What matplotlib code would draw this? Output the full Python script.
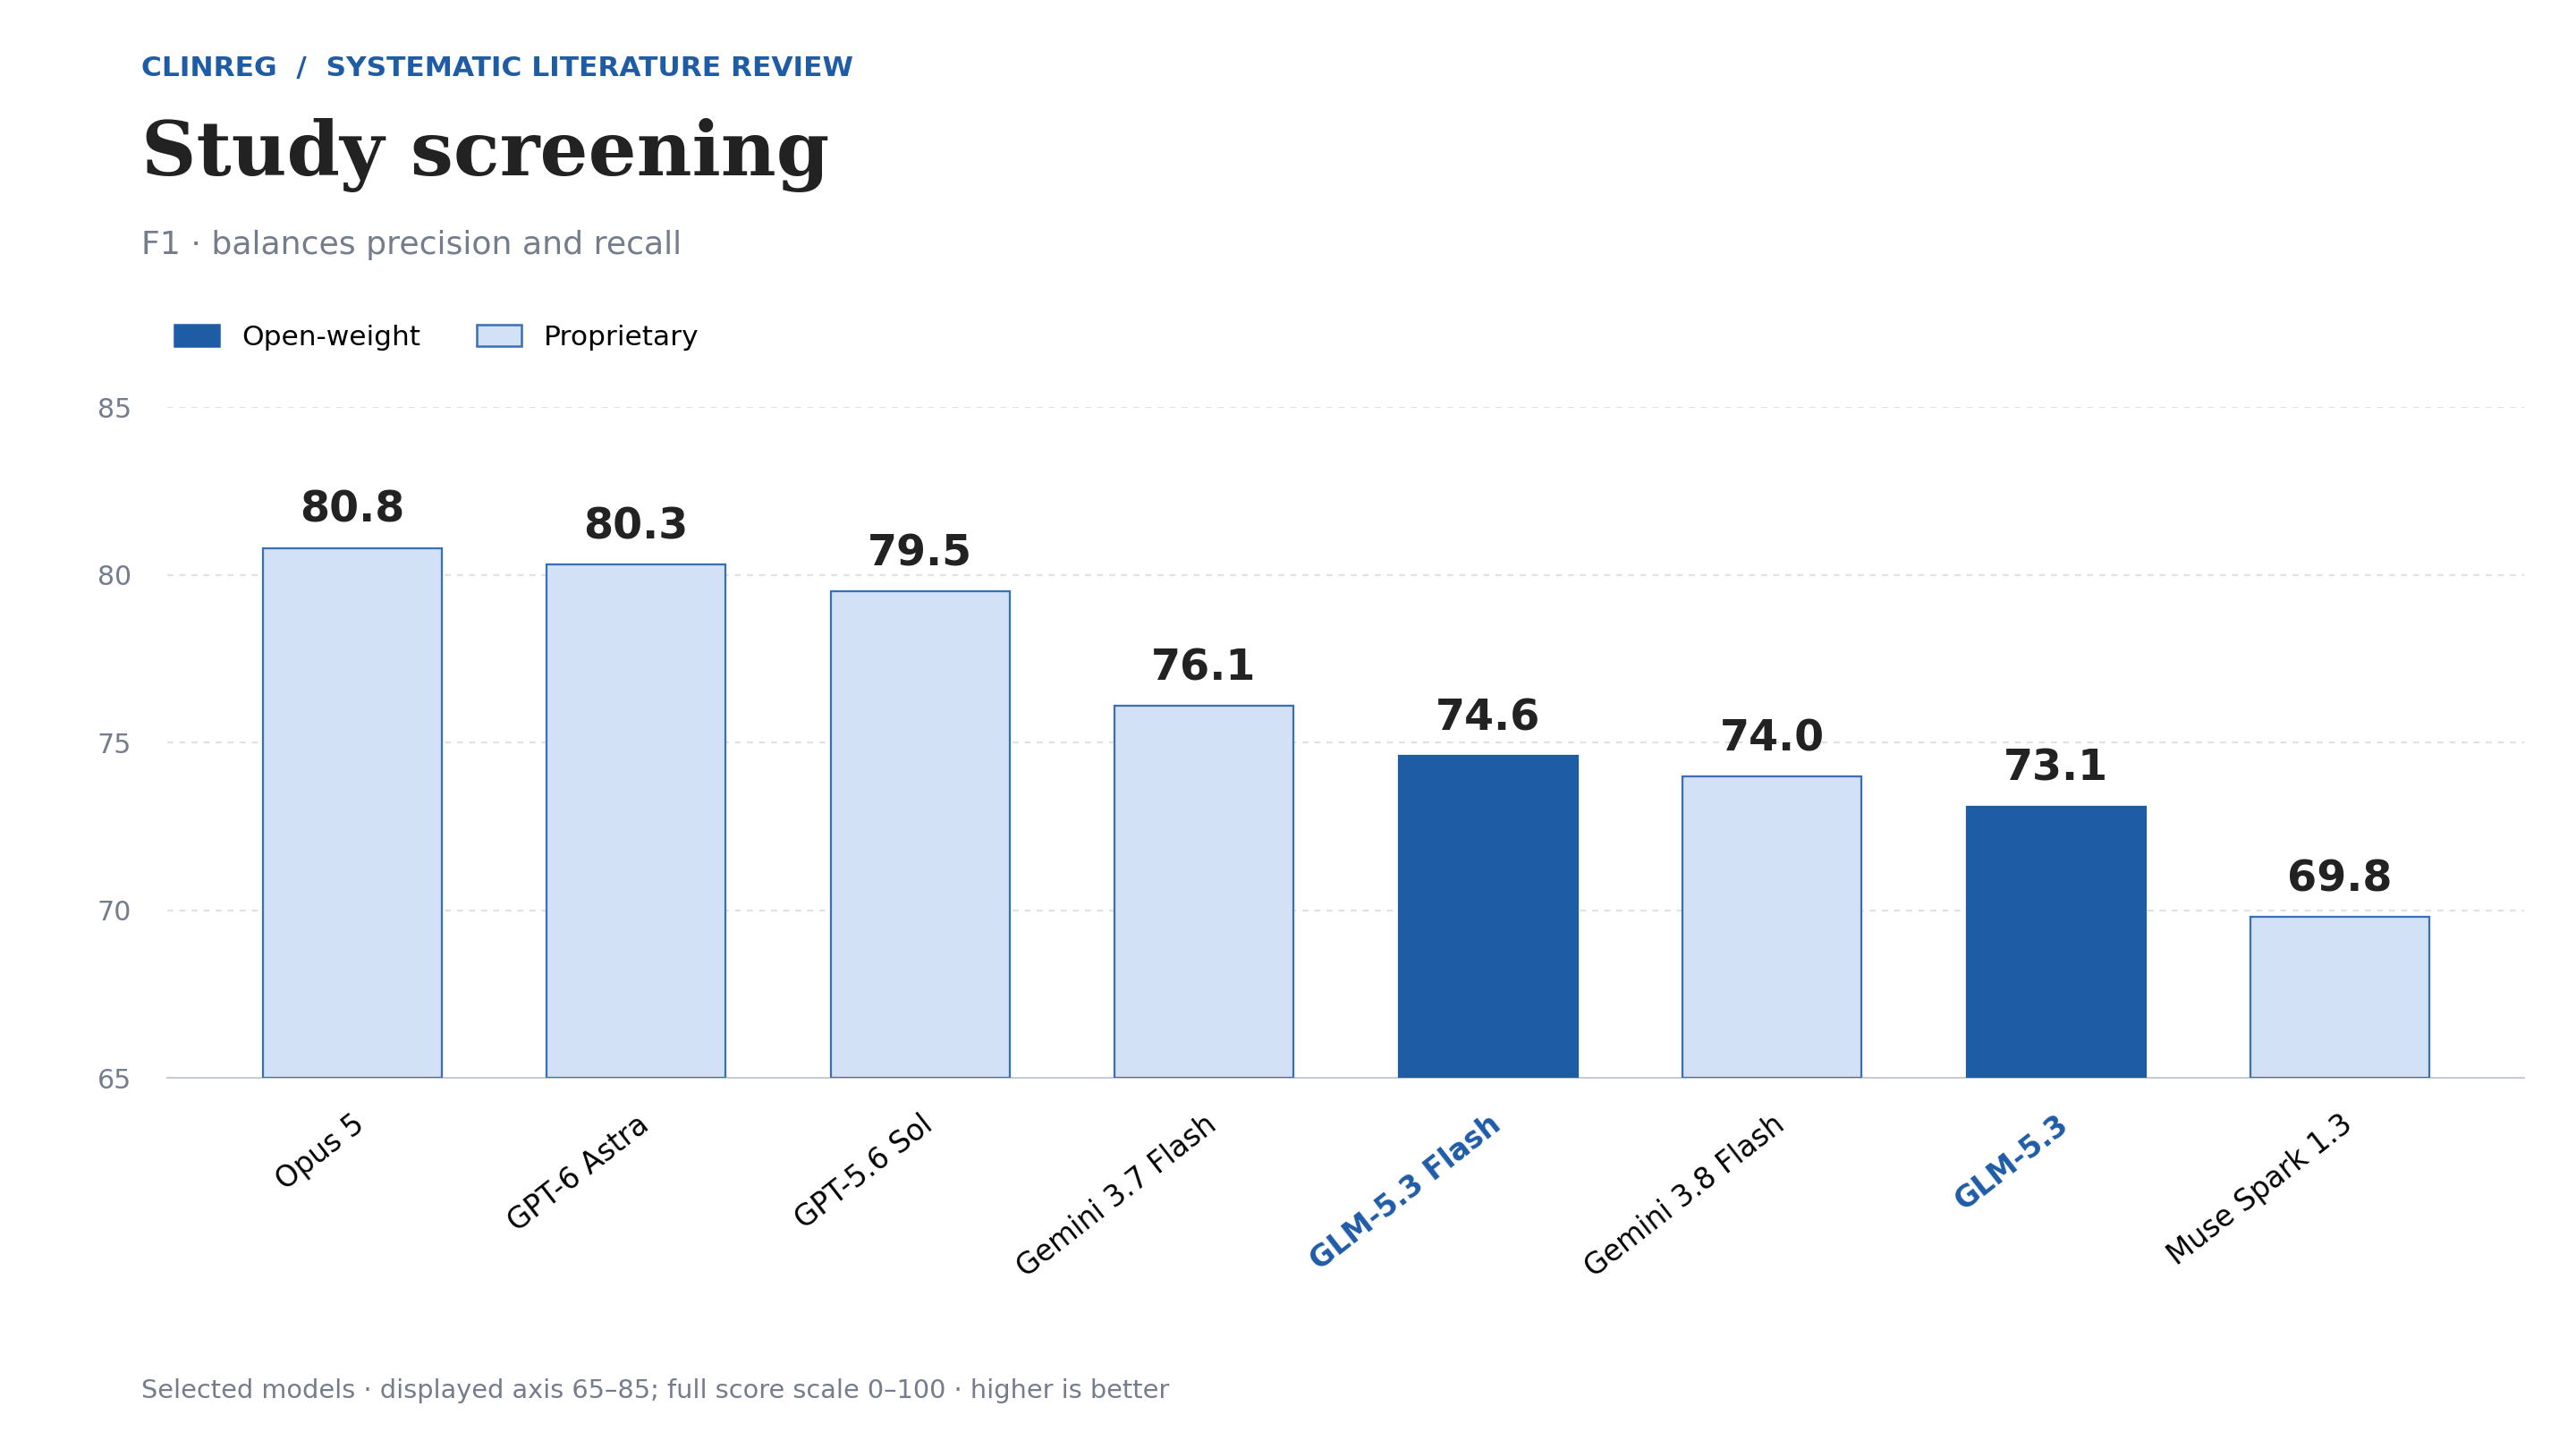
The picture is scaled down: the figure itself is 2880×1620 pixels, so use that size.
import matplotlib
matplotlib.use("Agg")
import matplotlib.pyplot as plt
from matplotlib.patches import Patch

models = ["Opus 5", "GPT-6 Astra", "GPT-5.6 Sol", "Gemini 3.7 Flash", "GLM-5.3 Flash",
          "Gemini 3.8 Flash", "GLM-5.3", "Muse Spark 1.3"]
scores = [80.8, 80.3, 79.5, 76.1, 74.6, 74.0, 73.1, 69.8]
open_weight = [False, False, False, False, True, False, True, False]
yticks = [65, 70, 75, 80, 85]

DARK = "#1f5ca6"
LIGHT = "#d2e1f5"
EDGE = "#3a6fb5"
GREY = "#737d8c"

fig = plt.figure(figsize=(16, 9), dpi=180)
ax = fig.add_axes([0.065, 0.256, 0.915, 0.463])
x = range(len(models))
colors = [DARK if o else LIGHT for o in open_weight]
ax.bar(x, [s - 65 for s in scores], bottom=65, width=0.63, color=colors,
       edgecolor=[DARK if o else EDGE for o in open_weight], linewidth=0.9, zorder=3)
for i, s in enumerate(scores):
    ax.text(i, s + 0.5, f"{s:.1f}", ha="center", va="bottom", fontsize=19,
            fontweight="bold", color="#222222")
ax.set_ylim(65, 85)
ax.set_xlim(-0.65, len(models) - 0.35)
ax.set_yticks(yticks)
ax.set_yticklabels([str(t) for t in yticks], color=GREY, fontsize=12)
ax.yaxis.grid(True, linestyle=(0, (3, 3)), color="#dfe3e8", linewidth=0.9, zorder=0)
ax.set_xticks(list(x))
ax.set_xticklabels(models, rotation=38, ha="right", rotation_mode="anchor", fontsize=13)
for lbl, o in zip(ax.get_xticklabels(), open_weight):
    if o:
        lbl.set_color(DARK)
        lbl.set_fontweight("bold")
ax.tick_params(axis="both", length=0)
ax.tick_params(axis="x", pad=14)
ax.tick_params(axis="y", pad=16)
for sp in ["top", "right", "left"]:
    ax.spines[sp].set_visible(False)
ax.spines["bottom"].set_color("#c5ccd6")

fig.text(0.055, 0.953, "CLINREG  /  SYSTEMATIC LITERATURE REVIEW", color=DARK,
         fontsize=12.5, fontweight="bold", va="center")
fig.text(0.055, 0.893, "Study screening", family="DejaVu Serif", fontweight="bold",
         fontsize=34, color="#222222", va="center")
fig.text(0.055, 0.831, "F1 · balances precision and recall", color=GREY, fontsize=14.5, va="center")
fig.text(0.055, 0.040, "Selected models · displayed axis 65–85; full score scale 0–100 · higher is better",
         color=GREY, fontsize=11.5, va="center")

handles = [Patch(facecolor=DARK, edgecolor=DARK, label="Open-weight"),
           Patch(facecolor=LIGHT, edgecolor=EDGE, label="Proprietary")]
fig.legend(handles=handles, loc="center left", bbox_to_anchor=(0.058, 0.767), ncol=2,
           frameon=False, fontsize=12.5, handlelength=1.6, handleheight=0.8, columnspacing=2.0)

fig.savefig("out.png", dpi=180, facecolor="white")
